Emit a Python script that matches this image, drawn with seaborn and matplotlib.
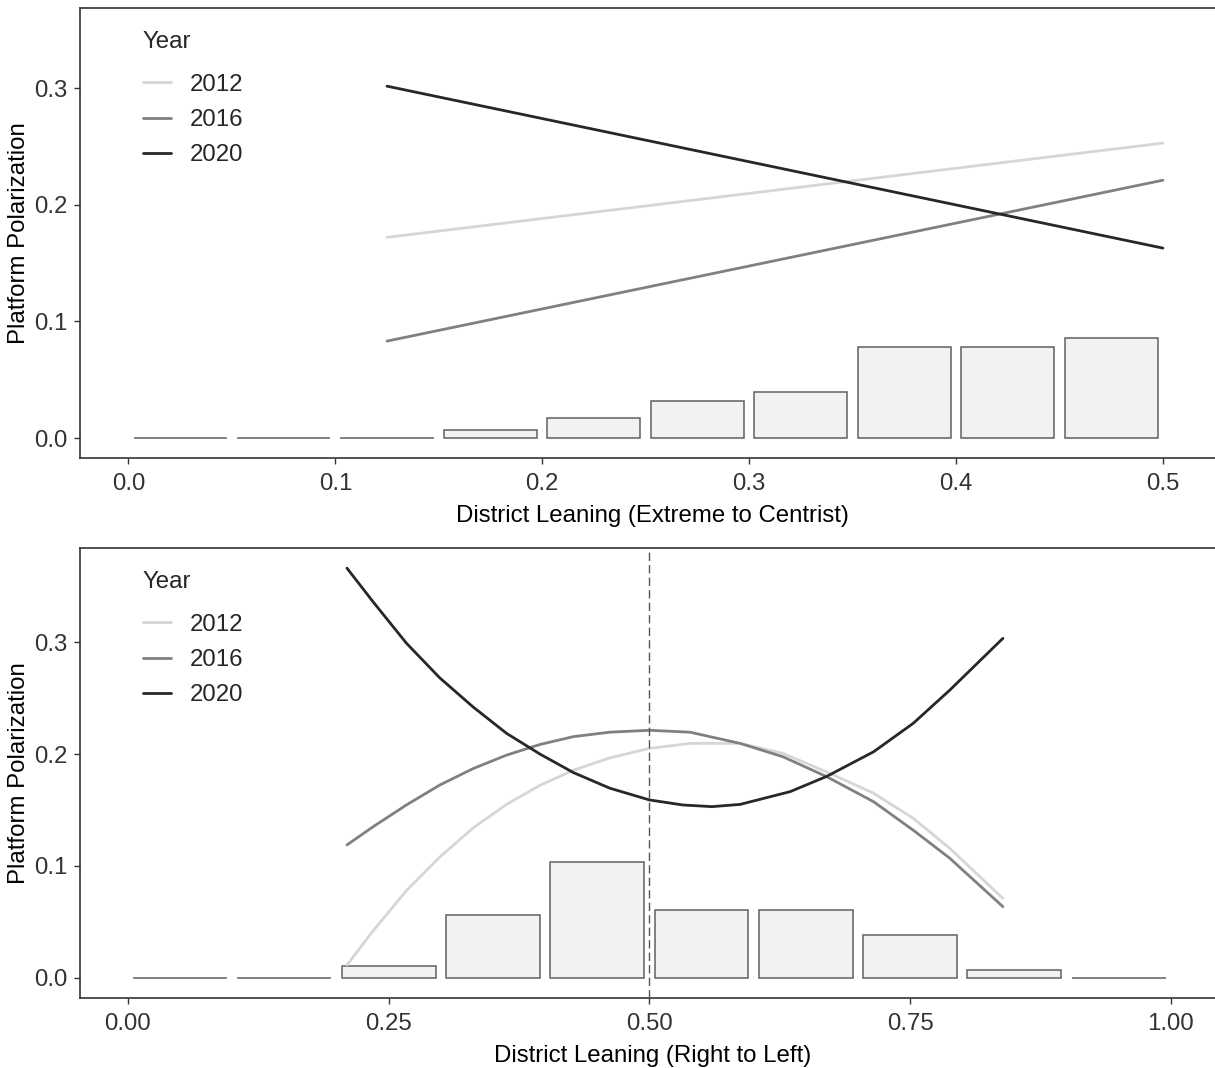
import matplotlib
matplotlib.use("Agg")
import matplotlib.pyplot as plt
import seaborn as sns
import pandas as pd
from matplotlib.ticker import FormatStrFormatter

sns.set_theme(style="white")
plt.rcParams["font.family"] = ["Liberation Sans", "DejaVu Sans"]

# --- data ---
years = ["2012", "2016", "2020"]
year_colors = ["#d6d6d6", "#808080", "#272727"]

# top panel: district leaning, extreme to centrist
top_bin_centres = [0.025, 0.075, 0.125, 0.175, 0.225, 0.275, 0.325, 0.375, 0.425, 0.475]
top_bin_heights = [0.0, 0.0, 0.0, 0.0066, 0.0171, 0.0317, 0.0394, 0.0777, 0.0777, 0.0857]

top_x = [0.125, 0.5]
top_2012 = [0.172, 0.2528]
top_2016 = [0.0831, 0.221]
top_2020 = [0.3016, 0.1628]

# bottom panel: district leaning, right to left
bot_bin_centres = [0.05, 0.15, 0.25, 0.35, 0.45, 0.55, 0.65, 0.75, 0.85, 0.95]
bot_bin_heights = [0.0, 0.0, 0.0107, 0.0563, 0.1033, 0.0604, 0.0604, 0.0387, 0.0069, 0.0]

bot_x_2012 = [0.21, 0.235, 0.267, 0.299, 0.331, 0.363, 0.395, 0.427, 0.462, 0.5,
              0.539, 0.587, 0.628, 0.67, 0.715, 0.753, 0.788, 0.839]
bot_2012 = [0.0116, 0.042, 0.078, 0.108, 0.134, 0.155, 0.172, 0.1855, 0.1965, 0.205,
            0.2095, 0.2095, 0.2006, 0.184, 0.165, 0.1426, 0.1158, 0.0711]
bot_x_2016 = [0.21, 0.235, 0.267, 0.299, 0.331, 0.363, 0.395, 0.427, 0.462, 0.5,
              0.539, 0.587, 0.628, 0.67, 0.715, 0.753, 0.788, 0.839]
bot_2016 = [0.1188, 0.135, 0.1545, 0.1723, 0.187, 0.199, 0.2085, 0.2155, 0.2195, 0.2212,
            0.2195, 0.2095, 0.1976, 0.1798, 0.1574, 0.132, 0.107, 0.0637]
bot_x_2020 = [0.21, 0.235, 0.267, 0.299, 0.331, 0.363, 0.395, 0.427, 0.462, 0.5,
              0.532, 0.56, 0.587, 0.635, 0.67, 0.715, 0.753, 0.788, 0.839]
bot_2020 = [0.366, 0.336, 0.299, 0.268, 0.242, 0.2185, 0.200, 0.1835, 0.1695, 0.159,
            0.1545, 0.153, 0.155, 0.1664, 0.180, 0.202, 0.2274, 0.257, 0.3033]


def long_lines(xs, ys):
    """Stack per-year series into one long frame for seaborn"""
    frames = []
    for yr, x, y in zip(years, xs, ys):
        frames.append(pd.DataFrame({"leaning": x, "polar": y, "Year": yr}))
    return pd.concat(frames, ignore_index=True)


top_lines = long_lines([top_x, top_x, top_x], [top_2012, top_2016, top_2020])
bot_lines = long_lines([bot_x_2012, bot_x_2016, bot_x_2020], [bot_2012, bot_2016, bot_2020])
top_bars = pd.DataFrame({"leaning": top_bin_centres, "share": top_bin_heights})
bot_bars = pd.DataFrame({"leaning": bot_bin_centres, "share": bot_bin_heights})

FS = 17.3
W, H = 1215, 1068
fig = plt.figure(figsize=(W / 100, H / 100), dpi=100)
ax_top = fig.add_axes([80 / W, 1 - 458 / H, (1225 - 80) / W, 450 / H])
ax_bot = fig.add_axes([80 / W, 1 - 998 / H, (1225 - 80) / W, 450 / H])


def draw_panel(ax, bars, lines, xlim, ylim, xticks, xfmt, xlabel):
    sns.barplot(data=bars, x="leaning", y="share", native_scale=True, width=0.9,
                color="#f2f2f2", saturation=1, edgecolor="#606060", linewidth=1.1,
                ax=ax, zorder=2)
    sns.lineplot(data=lines, x="leaning", y="polar", hue="Year", hue_order=years,
                 palette=year_colors, estimator=None, linewidth=2.0, ax=ax, zorder=3)
    ax.set_xlim(*xlim)
    ax.set_ylim(*ylim)
    ax.set_xticks(xticks)
    ax.set_yticks([0.0, 0.1, 0.2, 0.3])
    ax.xaxis.set_major_formatter(FormatStrFormatter(xfmt))
    ax.yaxis.set_major_formatter(FormatStrFormatter("%.1f"))
    ax.set_xlabel(xlabel, fontsize=FS, color="black", labelpad=7.5)
    ax.set_ylabel("Platform Polarization", fontsize=FS, color="black", labelpad=3)
    ax.tick_params(axis="both", which="major", direction="out", length=4, width=1.0,
                   color="#333333", labelsize=FS, labelcolor="#333333", pad=5,
                   bottom=True, left=True)
    ax.tick_params(axis="x", pad=6.5)
    for sp in ax.spines.values():
        sp.set_color("#333333")
        sp.set_linewidth(1.2)
    sns.move_legend(ax, loc="upper left", bbox_to_anchor=(43 / 1145, 0.994),
                    frameon=False, title="Year", fontsize=FS, title_fontsize=FS,
                    handlelength=1.15, handletextpad=0.8, labelspacing=0.55,
                    borderpad=0.83, borderaxespad=0, alignment="left")
    leg = ax.get_legend()
    # wider gap between the title and the first entry, as in ggplot
    leg._legend_box.sep = 15.3
    for ln in leg.get_lines():
        ln.set_linewidth(2.0)


draw_panel(ax_top, top_bars, top_lines, (-0.0234, 0.530), (-0.0171, 0.3686),
           [0.0, 0.1, 0.2, 0.3, 0.4, 0.5], "%.1f", "District Leaning (Extreme to Centrist)")
draw_panel(ax_bot, bot_bars, bot_lines, (-0.046, 1.052), (-0.0179, 0.384),
           [0.0, 0.25, 0.5, 0.75, 1.0], "%.2f", "District Leaning (Right to Left)")
ax_bot.axvline(0.5, color="#555555", linewidth=1.0, linestyle=(0, (6, 3)), zorder=4)

fig.savefig("out.png", dpi=100)
